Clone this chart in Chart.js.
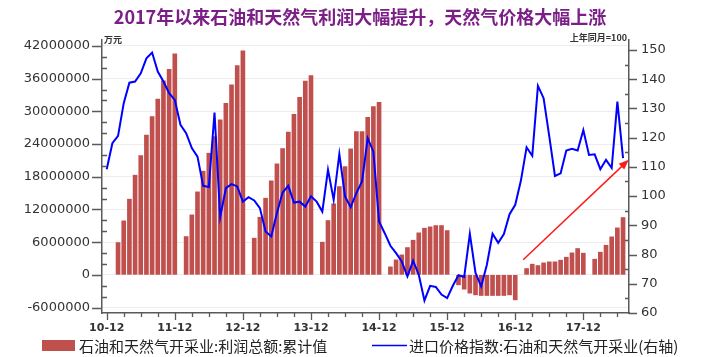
<!DOCTYPE html>
<html><head><meta charset="utf-8">
<script src="https://cdn.jsdelivr.net/npm/chart.js@4"></script>
<style>html,body{margin:0;padding:0;background:#fff}#wrap{width:703px;height:357px}</style>
</head><body><div id="wrap"><canvas id="c" width="703" height="357"></canvas></div>
<script>
// Months: 2010-12 .. 2018-07 (index 0..91)
const categories = ['2010-12'];
for (let y = 2011; y <= 2018; y++) for (let m = 1; m <= 12; m++) { if (y === 2018 && m > 7) break; categories.push(y + '-' + String(m).padStart(2,'0')); }

const tickLabels = ['10-12','11-12','12-12','13-12','14-12','15-12','16-12','17-12'];
const leftTicks = [-6000000,0,6000000,12000000,18000000,24000000,30000000,36000000,42000000];
const rightTicks = [60,70,80,90,100,110,120,130,140,150];

// 石油和天然气开采业:利润总额:累计值 (万元)
const profit = [
  null,
  null, 5930000, 9910000, 13890000, 18290000, 21890000, 25630000, 29050000, 32240000, 35600000, 37740000, 40550000,
  null, 7030000, 11010000, 15230000, 19030000, 22330000, 25380000, 28440000, 31500000, 34860000, 38400000, 41100000,
  null, 6730000, 10580000, 14070000, 17250000, 20370000, 23180000, 26180000, 29480000, 32600000, 35540000, 36570000,
  null, 6000000, 9970000, 13030000, 16200000, 19870000, 23120000, 26300000, 26300000, 28930000, 30890000, 31680000,
  null, 1470000, 2750000, 3670000, 5010000, 6360000, 7710000, 8560000, 8810000, 9050000, 9050000, 8130000,
  null, -1830000, -2630000, -3360000, -3670000, -3790000, -3790000, -3790000, -3790000, -3790000, -3670000, -4590000,
  null, 1160000, 1960000, 1710000, 2200000, 2390000, 2390000, 2690000, 3240000, 4040000, 4830000, 3980000,
  null, 2880000, 4160000, 5440000, 6970000, 8620000, 10520000
];

// 进口价格指数:石油和天然气开采业 (上年同月=100)
const priceIndex = [
  109.2,
  118.1, 120.6, 131.8, 138.8, 139.2, 142.0, 147.1, 149.1, 142.6, 139.2, 135.2, 132.9,
  124.4, 121.5, 116.4, 113.5, 103.5, 103.1, 128.6, 92.8, 102.7, 104.1, 103.3, 98.1,
  99.6, 98.5, 95.9, 87.9, 86.2, 94.2, 101.2, 103.5, 97.8, 98.1, 96.4, 99.9,
  98.1, 94.7, 109.0, 98.7, 114.4, 99.9, 96.2, 101.0, 105.0, 119.8, 115.2, 91.3,
  87.3, 83.0, 80.5, 77.6, 72.5, 77.9, 73.1, 64.3, 69.3, 68.9, 66.3, 65.1,
  69.3, 72.9, 72.3, 87.1, 73.7, 69.1, 76.5, 87.1, 84.0, 87.0, 93.8, 97.0,
  105.3, 116.7, 113.8, 137.7, 133.5, 120.4, 106.9, 107.8, 115.6, 116.2, 115.6, 122.6,
  114.1, 114.3, 109.2, 112.4, 109.6, 132.3, 113.0
];

const seriesNames = ['石油和天然气开采业:利润总额:累计值', '进口价格指数:石油和天然气开采业(右轴)'];
const titleText = '2017年以来石油和天然气利润大幅提升，天然气价格大幅上涨';
// arrow annotation in data units: [month index, right-axis value]
const arrowFrom = [73.4, 78.2];
const arrowTo = [92.0, 112.4];

const CJK = '"Noto Sans CJK SC", "Noto Sans", sans-serif';
const NUM = '"DejaVu Sans", sans-serif';
const AXIS = '#5a5a5a';

const overlay = {
  id: 'overlay',
  afterDraw(chart) {
    const ctx = chart.ctx, a = chart.chartArea;
    const xs = chart.scales.x, yl = chart.scales.y, yr = chart.scales.y1;
    ctx.save();
    // tick marks
    ctx.strokeStyle = AXIS; ctx.lineWidth = 1.3;
    ctx.beginPath();
    yl.ticks.forEach(t => {
      const p = Math.round(yl.getPixelForValue(t.value)) + 0.5;
      if (t.value % 6000000 === 0) { ctx.moveTo(a.left - 10, p); ctx.lineTo(a.left, p); }
      else { ctx.moveTo(a.left, p); ctx.lineTo(a.left + 5, p); }
    });
    yr.ticks.forEach(t => {
      const p = Math.round(yr.getPixelForValue(t.value)) + 0.5;
      if (t.value % 10 === 0) { ctx.moveTo(a.right, p); ctx.lineTo(a.right + 8, p); }
      else { ctx.moveTo(a.right - 4, p); ctx.lineTo(a.right, p); }
    });
    xs.ticks.forEach(t => {
      const p = Math.round(xs.getPixelForValue(t.value)) + 0.5;
      ctx.moveTo(p, a.bottom); ctx.lineTo(p, a.bottom + (t.value % 12 === 0 ? 7 : 4));
    });
    ctx.stroke();

    // arrow
    const x0 = xs.getPixelForValue(arrowFrom[0]), y0 = yr.getPixelForValue(arrowFrom[1]);
    const x1 = xs.getPixelForValue(arrowTo[0]), y1 = yr.getPixelForValue(arrowTo[1]);
    const ang = Math.atan2(y1 - y0, x1 - x0);
    ctx.strokeStyle = '#ff1a1a'; ctx.fillStyle = '#ff1a1a'; ctx.lineWidth = 1.5;
    ctx.beginPath(); ctx.moveTo(x0, y0);
    ctx.lineTo(x1 - 8 * Math.cos(ang), y1 - 8 * Math.sin(ang)); ctx.stroke();
    ctx.beginPath(); ctx.moveTo(x1, y1);
    ctx.lineTo(x1 - 10 * Math.cos(ang) + 4 * Math.sin(ang), y1 - 10 * Math.sin(ang) - 4 * Math.cos(ang));
    ctx.lineTo(x1 - 10 * Math.cos(ang) - 4 * Math.sin(ang), y1 - 10 * Math.sin(ang) + 4 * Math.cos(ang));
    ctx.closePath(); ctx.fill();

    // title
    ctx.fillStyle = '#7b1e87'; ctx.font = 'bold 18px ' + CJK;
    ctx.textAlign = 'center'; ctx.textBaseline = 'middle';
    ctx.fillText(titleText, 360, 17);

    // unit labels
    ctx.fillStyle = '#333'; ctx.font = 'bold 9px ' + CJK;
    ctx.textAlign = 'left'; ctx.fillText('万元', a.left + 2, 40);
    ctx.textAlign = 'right'; ctx.fillText('上年同月=100', a.right - 2, 38);

    // legend
    ctx.textAlign = 'left'; ctx.textBaseline = 'middle';
    ctx.fillStyle = '#c0504d'; ctx.fillRect(42, 340, 33, 11);
    ctx.fillStyle = '#222'; ctx.font = '15px ' + CJK;
    ctx.fillText(seriesNames[0], 79, 346);
    ctx.strokeStyle = '#0000ff'; ctx.lineWidth = 1.5;
    ctx.beginPath(); ctx.moveTo(372, 345.5); ctx.lineTo(407, 345.5); ctx.stroke();
    ctx.fillText(seriesNames[1], 409, 346);
    ctx.restore();
  }
};

new Chart(document.getElementById('c'), {
  data: {
    datasets: [
      { type: 'line', label: seriesNames[1], yAxisID: 'y1', order: 0,
        data: priceIndex.map((v, i) => ({ x: i, y: v })),
        borderColor: '#0000ff', borderWidth: 2, pointRadius: 0, tension: 0, fill: false },
      { type: 'bar', label: seriesNames[0], yAxisID: 'y', order: 1,
        data: profit.map((v, i) => ({ x: i, y: v })),
        backgroundColor: '#c0504d', barThickness: 4 }
    ]
  },
  options: {
    responsive: false, animation: false, devicePixelRatio: 1,
    layout: { padding: { top: 40, left: 0, right: 0, bottom: 0 } },
    plugins: { legend: { display: false }, tooltip: { enabled: false }, title: { display: false } },
    scales: {
      x: {
        type: 'linear', min: -0.83, max: 92.05, offset: false,
        grid: { display: false, drawTicks: false },
        border: { display: true, color: AXIS, width: 1.5 },
        afterBuildTicks: s => { const t = []; for (let v = 0; v <= 90; v += 3) t.push({ value: v }); s.ticks = t; },
        ticks: { autoSkip: false, maxRotation: 0, padding: 9, color: '#333',
          font: { family: NUM, size: 11, weight: 'bold' },
          callback: v => (v % 12 === 0 ? tickLabels[v / 12] : '') },
        afterFit: s => { s.height = 44; }
      },
      y: {
        position: 'left', min: -7000000, max: 43100000,
        afterBuildTicks: s => { const t = []; for (let v = -6000000; v <= 42000000; v += 2000000) t.push({ value: v }); s.ticks = t; },
        grid: { drawTicks: false, color: c => (c.tick && c.tick.value % 6000000 === 0 ? '#ececec' : 'rgba(0,0,0,0)'), lineWidth: 1 },
        border: { display: true, color: AXIS, width: 1.5 },
        ticks: { autoSkip: false, padding: 12, color: '#333', font: { family: NUM, size: 13 },
          callback: v => (leftTicks.includes(v) ? String(v) : '') },
        afterFit: s => { s.width = 102; }
      },
      y1: {
        position: 'right', min: 60, max: 153.4,
        afterBuildTicks: s => { const t = []; for (let v = 60; v <= 150; v += 5) t.push({ value: v }); s.ticks = t; },
        grid: { display: false, drawTicks: false },
        border: { display: true, color: AXIS, width: 1.5 },
        ticks: { autoSkip: false, padding: 12, color: '#333', font: { family: NUM, size: 13 },
          callback: v => (rightTicks.includes(v) ? String(v) : '') },
        afterFit: s => { s.width = 74; }
      }
    }
  },
  plugins: [overlay]
});
</script></body></html>
